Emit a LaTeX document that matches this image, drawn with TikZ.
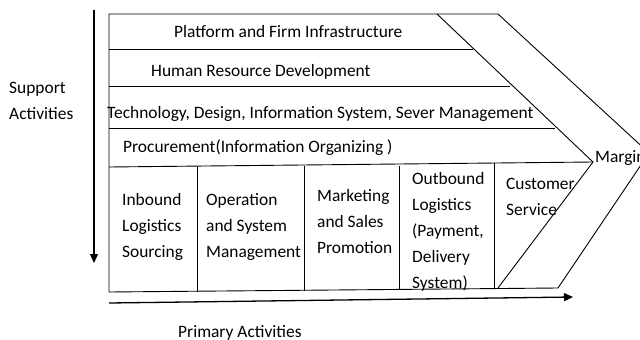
\documentclass[tikz,border=0pt]{standalone}
\usepackage{fontspec}
\setmainfont{Carlito}
\usetikzlibrary{arrows.meta}
\begin{document}
\begin{tikzpicture}[x=1pt,y=-1pt,
  lbl/.style={inner sep=0pt,anchor=base west,font=\fontsize{17.4}{26}\selectfont},
  mlbl/.style={lbl,align=left},
  box/.style={line width=0.9pt,line join=miter},
  axisarrow/.style={line width=1.3pt,-{Triangle[length=9pt,width=8pt]}}]
\useasboundingbox (0,0) rectangle (640,340);
% key points
\coordinate (tl) at (109,14);
\coordinate (bl) at (109,292);
\coordinate (ia) at (437,14);
\coordinate (it) at (593,162);
\coordinate (ib) at (498,288);
\coordinate (oa) at (498,14);
\coordinate (ot) at (649,153);
\coordinate (ob) at (558,288);
\coordinate (pl) at (109,167);
% frame
\draw[box] (oa) -- (tl) -- (bl) -- (ob);
\draw[box] (ia) -- (it) -- (ib);
\draw[box] (oa) -- (ot) -- (ob);
\draw[box] (pl) -- (it);
\draw[box] (109,49) -- (473,49);
\draw[box] (109,86) -- (510,86);
\draw[box] (109,128) -- (555,128);
\draw[box] (197,166.5) -- (197,291.5);
\draw[box] (304,166) -- (304,291);
\draw[box] (399,165.5) -- (399,290);
\draw[box] (494,163) -- (494,289);
% axes
\coordinate (va) at (94,10);
\coordinate (vb) at (94,263);
\draw[axisarrow] (va) -- (vb);
\coordinate (ha) at (109,303);
\coordinate (hb) at (573,297);
\draw[axisarrow] (ha) -- (hb);
% support labels
\node[lbl] (plat) at (174,37) {Platform and Firm Infrastructure};
\node[lbl] (hrd) at (151,76) {Human Resource Development};
\node[lbl] (tech) at (107,118) {Technology, Design, Information System, Sever Management};
\node[lbl] (proc) at (123,152) {Procurement(Information Organizing )};
% primary labels (base anchor = last line baseline)
\node[mlbl] (inb) at (122,257) {Inbound\\Logistics\\Sourcing};
\node[mlbl] (oper) at (206,257) {Operation\\and System\\Management};
\node[mlbl] (mkt) at (317,253) {Marketing\\and Sales\\Promotion};
\node[mlbl] (outb) at (412,288) {Outbound\\Logistics\\(Payment,\\Delivery\\System)};
\node[mlbl] (cust) at (506,215) {Customer\\Service};
% side labels
\node[mlbl] (sup) at (9,119) {Support\\Activities};
\node[lbl] (prim) at (178,337) {Primary Activities};
\node[lbl] (marg) at (595,162) {Margin};
\end{tikzpicture}
\end{document}
